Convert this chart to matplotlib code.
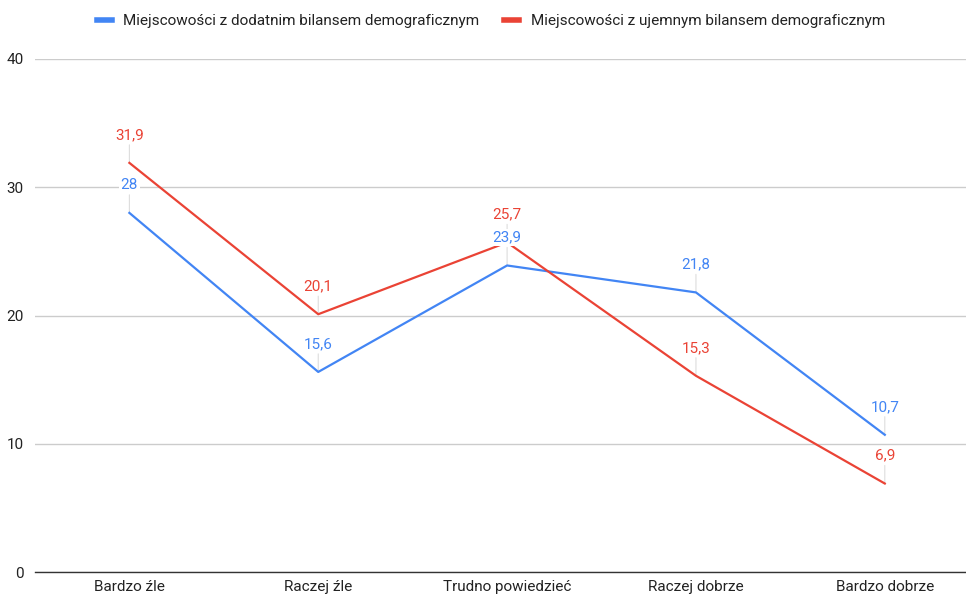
import matplotlib.pyplot as plt

plt.rcParams['font.family'] = ['Roboto', 'DejaVu Sans']

categories = ['Bardzo źle', 'Raczej źle', 'Trudno powiedzieć', 'Raczej dobrze', 'Bardzo dobrze']
dodatni = [28, 15.6, 23.9, 21.8, 10.7]
ujemny = [31.9, 20.1, 25.7, 15.3, 6.9]
series_names = ['Miejscowości z dodatnim bilansem demograficznym',
                'Miejscowości z ujemnym bilansem demograficznym']
yticks = [0, 10, 20, 30, 40]

blue = '#4285F4'
red = '#EA4335'

fig = plt.figure(figsize=(9.66, 5.94), dpi=100)
ax = fig.add_axes([0.0362, 0.037, 0.9638, 0.8637])

x = range(len(categories))
ax.plot(x, dodatni, color=blue, lw=1.6, label=series_names[0], zorder=3)
ax.plot(x, ujemny, color=red, lw=1.6, label=series_names[1], zorder=3)

# data labels with thin leader lines
for vals, col in [(dodatni, blue), (ujemny, red)]:
    for i, v in enumerate(vals):
        ax.annotate(f'{v:g}'.replace('.', ','), (i, v), xytext=(0, 20),
                    textcoords='offset points', ha='center', va='center',
                    color=col, fontsize=11,
                    bbox=dict(boxstyle='square,pad=0.1', fc='white', ec='none'),
                    zorder=4)
        ax.annotate('', (i, v), xytext=(0, 13), textcoords='offset points',
                    arrowprops=dict(arrowstyle='-', color='#dddddd', lw=0.8,
                                    shrinkA=0, shrinkB=0), zorder=2)

ax.set_xlim(-0.5, 4.43)
ax.set_ylim(0, 40)
ax.set_yticks(yticks)
ax.set_xticks(list(x))
ax.set_xticklabels(categories)
ax.tick_params(axis='both', length=0, labelsize=11, colors='#222222')
ax.tick_params(axis='x', pad=6)
ax.tick_params(axis='y', pad=8)
ax.grid(axis='y', color='#cccccc', lw=1)
ax.set_axisbelow(True)
for s in ['top', 'right', 'left']:
    ax.spines[s].set_visible(False)
ax.spines['bottom'].set_color('#333333')
ax.spines['bottom'].set_linewidth(1)

fig.legend(loc='center', bbox_to_anchor=(0.508, 0.964), ncol=2, frameon=False,
           fontsize=11, handlelength=1.0, handletextpad=0.75, columnspacing=1.6,
           labelcolor='#222222')
for h in fig.legends[0].get_lines():
    h.set_linewidth(4)

fig.savefig('out.png', dpi=100)
